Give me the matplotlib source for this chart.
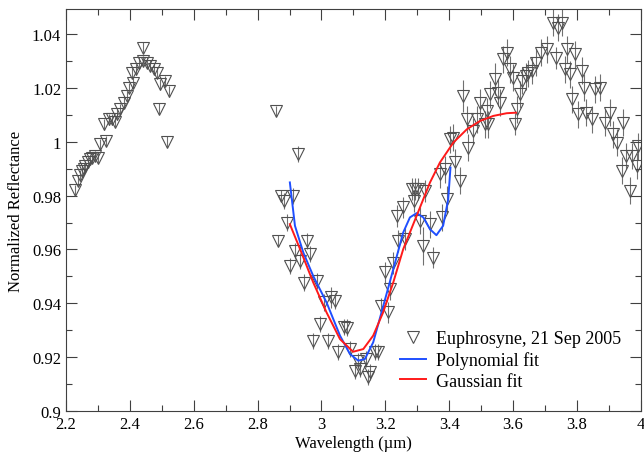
import numpy as np
import matplotlib
matplotlib.use("Agg")
import matplotlib.pyplot as plt
from matplotlib.ticker import MultipleLocator, FuncFormatter

plt.rcParams['font.family'] = ['Liberation Serif', 'DejaVu Serif']

# Measured spectrum (wavelength um, reflectance, 1-sigma)
wl = [2.227, 2.238, 2.244, 2.250, 2.256, 2.260, 2.269, 2.275, 2.281, 2.292,
      2.300, 2.307, 2.318, 2.326, 2.334, 2.344, 2.352, 2.360, 2.370, 2.381,
      2.391, 2.396, 2.407, 2.410, 2.419, 2.430, 2.440, 2.441, 2.454, 2.464,
      2.475, 2.485, 2.490, 2.495, 2.509, 2.516, 2.523,
      2.857, 2.865, 2.873, 2.883, 2.891, 2.901, 2.912, 2.917, 2.927, 2.933,
      2.946, 2.954, 2.964, 2.974, 2.985, 2.995, 3.009, 3.019, 3.030, 3.042,
      3.053, 3.071, 3.079, 3.089, 3.105, 3.115, 3.120, 3.141, 3.146, 3.152,
      3.167, 3.178, 3.188, 3.199, 3.209, 3.214, 3.225, 3.235, 3.241, 3.254,
      3.261, 3.282, 3.289, 3.293, 3.303, 3.308, 3.319, 3.324, 3.340, 3.350,
      3.371, 3.376, 3.387, 3.392, 3.404, 3.413, 3.418, 3.433, 3.444, 3.455,
      3.460, 3.475, 3.486, 3.496, 3.512, 3.517, 3.522, 3.527, 3.543, 3.553,
      3.559, 3.569, 3.582, 3.590, 3.601, 3.606, 3.611, 3.621, 3.627, 3.640,
      3.648, 3.658, 3.673, 3.689, 3.705, 3.726, 3.734, 3.741, 3.752, 3.762,
      3.768, 3.778, 3.786, 3.794, 3.804, 3.815, 3.822, 3.830, 3.846, 3.856,
      3.872, 3.888, 3.903, 3.914, 3.924, 3.940, 3.945, 3.955, 3.966, 3.971,
      3.987, 3.992]
refl = [0.9821, 0.9855, 0.9875, 0.9892, 0.9900, 0.9910, 0.9923, 0.9935, 0.9941, 0.9947,
        0.9941, 0.9991, 1.0065, 1.0003, 1.0083, 1.0083, 1.0073, 1.0102, 1.0120, 1.0145,
        1.0170, 1.0200, 1.0256, 1.0219, 1.0269, 1.0294, 1.0300, 1.0350, 1.0294, 1.0282,
        1.0270, 1.0256, 1.0123, 1.0213, 1.0226, 1.0000, 1.0188,
        1.0114, 0.9632, 0.9799, 0.9780, 0.9700, 0.9539, 0.9799, 0.9595, 0.9954, 0.9558,
        0.9477, 0.9632, 0.9583, 0.9261, 0.9483, 0.9323, 0.9403, 0.9259, 0.9422, 0.9409,
        0.9218, 0.9311, 0.9310, 0.9230, 0.9150, 0.9187, 0.9156, 0.9193, 0.9125, 0.9144,
        0.9218, 0.9218, 0.9390, 0.9515, 0.9366, 0.9453, 0.9550, 0.9725, 0.9632, 0.9756,
        0.9638, 0.9824, 0.9780, 0.9824, 0.9824, 0.9706, 0.9614, 0.9818, 0.9694, 0.9570,
        0.9879, 0.9719, 0.9898, 0.9787, 1.0009, 1.0015, 0.9923, 0.9855, 1.0170, 1.0083,
        0.9978, 1.0040, 1.0083, 1.0145, 1.0065, 1.0114, 1.0065, 1.0176, 1.0232, 1.0182,
        1.0145, 1.0306, 1.0331, 1.0269, 1.0238, 1.0065, 1.0121, 1.0176, 1.0226, 1.0244,
        1.0255, 1.0264, 1.0294, 1.0331, 1.0343, 1.0442, 1.0312, 1.0424, 1.0442, 1.0269,
        1.0343, 1.0250, 1.0158, 1.0325, 1.0102, 1.0264, 1.0201, 1.0108, 1.0083, 1.0195,
        1.0201, 1.0071, 1.0108, 1.0028, 0.9997, 0.9892, 1.0071, 0.9947, 0.9818, 0.9947,
        0.9910, 0.9984]
err = [0.002] * 37 + [
        0.002, 0.002, 0.002, 0.003, 0.003, 0.003, 0.003, 0.003, 0.003, 0.003,
        0.003, 0.003, 0.003, 0.003, 0.003, 0.003, 0.003, 0.003, 0.004, 0.003,
        0.003, 0.003, 0.003, 0.003, 0.003, 0.003, 0.003, 0.003, 0.003, 0.003,
        0.003, 0.003, 0.003, 0.004, 0.004, 0.004, 0.004, 0.004, 0.004, 0.004,
        0.004, 0.004, 0.004, 0.004, 0.004, 0.005, 0.007, 0.004, 0.005, 0.004,
        0.005, 0.005, 0.005, 0.005, 0.005, 0.005, 0.005, 0.005, 0.006, 0.005,
        0.005, 0.005, 0.005, 0.005, 0.005, 0.005, 0.005, 0.005, 0.006, 0.005,
        0.005, 0.005, 0.005, 0.005, 0.005, 0.004, 0.005, 0.005, 0.005, 0.005,
        0.005, 0.005, 0.005, 0.005, 0.005, 0.005, 0.004, 0.005, 0.005, 0.005,
        0.005, 0.005, 0.005, 0.005, 0.005, 0.005, 0.005, 0.005, 0.005, 0.005,
        0.005, 0.005, 0.005, 0.005, 0.005, 0.005, 0.005, 0.005, 0.005, 0.005,
        0.005, 0.005]

# Polynomial fit curve
poly_x = [2.901, 2.917, 2.943, 2.974, 3.016, 3.058, 3.089, 3.115, 3.136, 3.162,
          3.188, 3.225, 3.256, 3.277, 3.298, 3.319, 3.340, 3.360, 3.381, 3.397, 3.404]
poly_y = [0.9849, 0.9688, 0.9589, 0.9502, 0.9403, 0.9280, 0.9212, 0.9187, 0.9193, 0.9255,
          0.9366, 0.9527, 0.9663, 0.9719, 0.9735, 0.9719, 0.9675, 0.9653, 0.9688, 0.9787, 0.9904]

# Gaussian fit curve
gaus_x = [2.901, 2.933, 2.974, 3.016, 3.058, 3.099, 3.131, 3.162, 3.193, 3.225,
          3.256, 3.298, 3.340, 3.371, 3.413, 3.455, 3.496, 3.538, 3.580, 3.609]
gaus_y = [0.9694, 0.9601, 0.9478, 0.9366, 0.9267, 0.9220, 0.9230, 0.9280, 0.9366, 0.9478,
          0.9601, 0.9725, 0.9849, 0.9923, 0.9997, 1.0046, 1.0077, 1.0096, 1.0106, 1.0108]

fig = plt.figure(figsize=(6.44, 4.56), dpi=100)
ax = fig.add_axes([0.1025, 0.0965, 0.8925, 0.8815])

ax.errorbar(wl, refl, yerr=err, fmt='none', ecolor='#707070', elinewidth=0.8, capsize=0, zorder=1)
ax.plot(wl, refl, linestyle='none', marker='v', markersize=9, markerfacecolor='none',
        markeredgecolor='#505050', markeredgewidth=0.8, label='Euphrosyne, 21 Sep 2005', zorder=2)
ax.plot(poly_x, poly_y, color='#1f4fff', lw=1.4, label='Polynomial fit', zorder=3)
ax.plot(gaus_x, gaus_y, color='#ff1a1a', lw=1.4, label='Gaussian fit', zorder=3)

ax.set_xlim(2.2, 4.0)
ax.set_ylim(0.9, 1.0493)
ax.xaxis.set_major_locator(MultipleLocator(0.2))
ax.xaxis.set_minor_locator(MultipleLocator(0.1))
ax.yaxis.set_major_locator(MultipleLocator(0.02))
ax.yaxis.set_minor_locator(MultipleLocator(0.01))
fmt = FuncFormatter(lambda v, p: f"{round(v, 3):g}")
ax.xaxis.set_major_formatter(fmt)
ax.yaxis.set_major_formatter(fmt)
ax.tick_params(which='both', direction='in', top=True, right=True, colors='#404040',
               labelcolor='black', labelsize=12)
ax.tick_params(which='major', length=8, width=0.8)
ax.tick_params(which='minor', length=4, width=0.8)
for s in ax.spines.values():
    s.set_color('#404040')
    s.set_linewidth(0.8)

ax.set_xlabel('Wavelength (\u00b5m)', fontsize=12, labelpad=2)
ax.set_ylabel('Normalized Reflectance', fontsize=12, labelpad=6)

ax.legend(loc='lower right', bbox_to_anchor=(0.987, 0.022), frameon=False, fontsize=13,
          handlelength=1.4, handletextpad=0.55, labelspacing=0.2, borderpad=0.2)

fig.savefig('out.png', dpi=100)
